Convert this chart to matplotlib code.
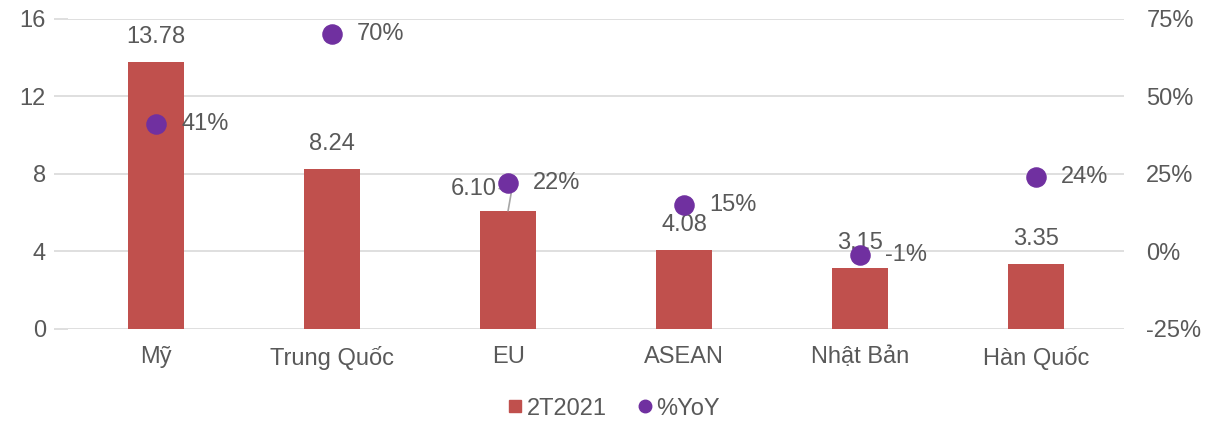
import numpy as np
import matplotlib.pyplot as plt
from matplotlib.lines import Line2D

plt.rcParams["font.family"] = ["Liberation Sans", "DejaVu Sans"]

categories = ["Mỹ", "Trung Quốc", "EU", "ASEAN", "Nhật Bản", "Hàn Quốc"]
value_2t2021 = [13.78, 8.24, 6.10, 4.08, 3.15, 3.35]
yoy_pct = [41, 70, 22, 15, -1, 24]

BAR_C = "#C0504D"
DOT_C = "#7030A0"
TXT_C = "#595959"
GRID_C = "#D9D9D9"
FS = 17

fig = plt.figure(figsize=(12.28, 4.22), dpi=100)
ax = fig.add_axes([0.0554, 0.2204, 0.86, 0.7346])
ax2 = ax.twinx()

x = np.arange(len(categories))
ax.bar(x, value_2t2021, width=0.32, color=BAR_C, zorder=2)
ax.set_xlim(-0.5, len(categories) - 0.5)
ax.set_ylim(0, 16)
ax.set_yticks([0, 4, 8, 12, 16])
ax.grid(axis="y", color=GRID_C, lw=1.2, zorder=0)
ax.set_axisbelow(True)
ax.set_xticks(x)
ax.set_xticklabels(categories)
ax.tick_params(axis="x", length=0, pad=12, labelsize=FS, labelcolor=TXT_C)
ax.tick_params(axis="y", length=10, color=GRID_C, width=1.2, pad=6,
               labelsize=FS, labelcolor=TXT_C)
for sp in ax.spines.values():
    sp.set_visible(False)
for sp in ax2.spines.values():
    sp.set_visible(False)

ax2.scatter(x, yoy_pct, s=190, color=DOT_C, zorder=4)
ax2.set_ylim(-25, 75)
ax2.set_yticks([-25, 0, 25, 50, 75])
ax2.set_yticklabels([f"{v}%" for v in [-25, 0, 25, 50, 75]])
ax2.tick_params(axis="y", length=0, pad=16, labelsize=FS, labelcolor=TXT_C)

# bar labels
for i, v in enumerate(value_2t2021):
    if categories[i] == "EU":
        ax.annotate(f"{v:.2f}", xy=(i, v), xytext=(-25, 16),
                    textcoords="offset points", ha="center", va="center",
                    fontsize=FS, color=TXT_C,
                    arrowprops=dict(arrowstyle="-", color="#A6A6A6", lw=1.2,
                                    shrinkA=0, shrinkB=0,
                                    connectionstyle="angle,angleA=0,angleB=80,rad=0"))
    else:
        ax.annotate(f"{v:.2f}", xy=(i, v), xytext=(0, 18),
                    textcoords="offset points", ha="center", va="center",
                    fontsize=FS, color=TXT_C)

# yoy labels
for i, v in enumerate(yoy_pct):
    ax2.annotate(f"{v}%", xy=(i, v), xytext=(18, 0),
                 textcoords="offset points", ha="left", va="center",
                 fontsize=FS, color=TXT_C)

handles = [Line2D([], [], marker="s", ls="", color=BAR_C, markersize=9, label="2T2021"),
           Line2D([], [], marker="o", ls="", color=DOT_C, markersize=9, label="%YoY")]
fig.legend(handles=handles, loc="lower center", bbox_to_anchor=(0.5, -0.045),
           ncol=2, frameon=False, fontsize=FS, labelcolor=TXT_C,
           handlelength=0.6, handletextpad=0.2, columnspacing=1.3)

fig.savefig("out.png", dpi=100)
